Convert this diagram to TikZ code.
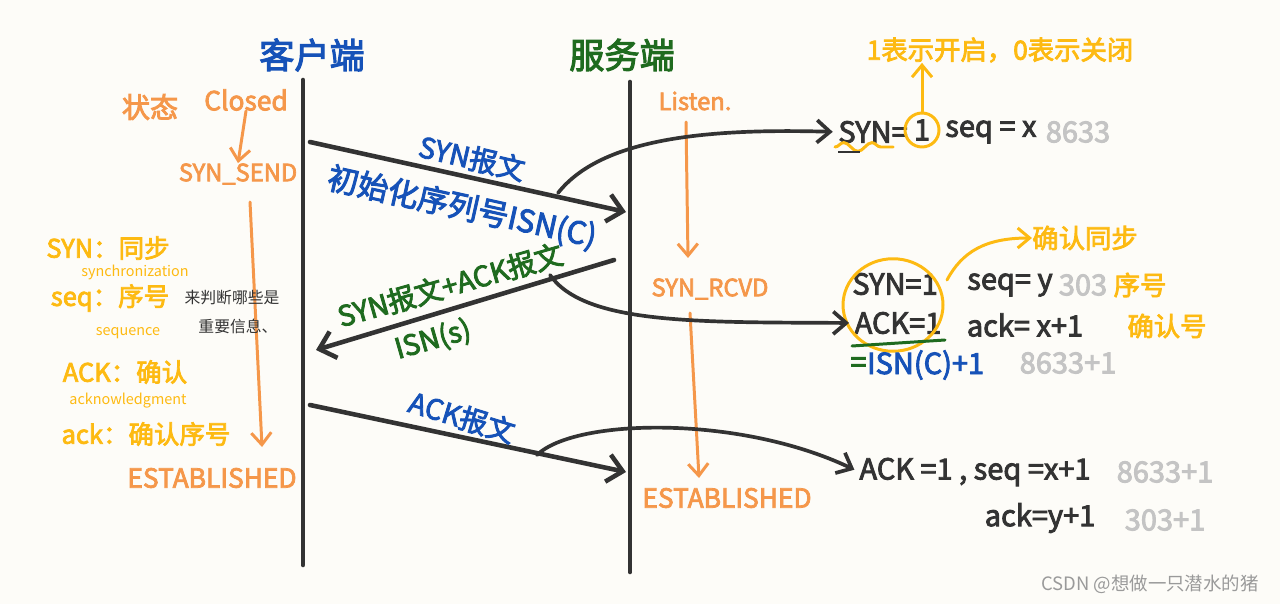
\documentclass[tikz,border=0pt]{standalone}
\usepackage{fontspec}
\setmainfont{Noto Sans CJK SC}
\newfontfamily\hand{Noto Sans CJK SC}[FakeBold=3]
\usepackage{xcolor}
\usetikzlibrary{arrows.meta,decorations.pathmorphing,shapes.geometric}
\definecolor{paper}{HTML}{FDFCF8}
\definecolor{ink}{HTML}{333333}
\definecolor{blu}{HTML}{1652B8}
\definecolor{grn}{HTML}{1F6B1F}
\definecolor{org}{HTML}{F5974A}
\definecolor{ylw}{HTML}{FDBA12}
\definecolor{gry}{HTML}{C4C4C4}
\definecolor{wm}{HTML}{9A9A9A}
\tikzset{
  life/.style={draw=ink, line width=2.6pt, line cap=round},
  msg/.style={draw=ink, line width=2.6pt, line cap=round, line join=round,
    -{Straight Barb[length=3mm,width=5.5mm]}},
  bendto/.style={draw=ink, line width=2.1pt, line cap=round, shorten >=3pt,
    -{Straight Barb[length=2.6mm,width=4.5mm]}},
  flow/.style={draw=org, line width=1.7pt, line cap=round,
    -{Straight Barb[length=2.4mm,width=4mm]}},
  hl/.style={draw=ylw, line width=1.7pt, line cap=round},
  hlto/.style={hl, -{Straight Barb[length=2.4mm,width=4mm]}},
  ttl/.style={font=\fontsize{20}{22}\hand, inner sep=0pt},
  state/.style={text=org, font=\fontsize{13.5}{15}\hand, inner sep=0pt},
  stateb/.style={state, font=\fontsize{15}{17}\hand},
  key/.style={text=ylw, font=\fontsize{14.5}{16}\hand, inner sep=0pt},
  keyb/.style={text=ylw, font=\fontsize{15}{17}\hand, inner sep=0pt},
  keysub/.style={text=ylw, font=\fontsize{8.2}{9}\selectfont, inner sep=0pt},
  note/.style={text=ink, font=\fontsize{9}{11}\selectfont, inner sep=0pt},
  lab/.style={font=\fontsize{16}{18}\hand, inner sep=0pt},
  val/.style={text=ink, font=\fontsize{16.5}{18}\hand, inner sep=0pt},
  num/.style={text=gry, font=\fontsize{16.5}{18}\hand, inner sep=0pt},
}

\begin{document}
\begin{tikzpicture}[x=0.02cm,y=-0.02cm]
  \fill[paper] (0,0) rectangle (1280,604);
  \useasboundingbox (0,0) rectangle (1280,604);

  % lifelines
  \coordinate (ctop) at (303,80);
  \coordinate (cbot) at (303,565);
  \coordinate (stop) at (630,82);
  \coordinate (sbot) at (630,572);
  \draw[life] (ctop) -- (cbot);
  \draw[life] (stop) -- (sbot);
  \node[ttl,text=blu] (client) at (312,55) {客户端};
  \node[ttl,text=grn] (server) at (622,55) {服务端};

  % client states
  \node[state,font=\fontsize{16}{18}\hand] (zt) at (150,107) {状态};
  \node[stateb] (closed) at (246,100) {Closed};
  \node[state] (csend) at (238,174) {SYN\_SEND};
  \node[stateb] (cest) at (212,478) {ESTABLISHED};
  \coordinate (f1a) at (250,202);
  \coordinate (f1b) at (262,447);
  \draw[flow] (closed.south) -- (csend.north);
  \draw[flow] (f1a) -- (f1b);

  % legend
  \node[key] (ksyn) at (108,248) {SYN：同步};
  \node[keysub] (ksyn2) at (135,272) {synchronization};
  \node[key] (kseq) at (110,298) {seq：序号};
  \node[keysub] (kseq2) at (128,333) {sequence};
  \node[key] (kack) at (125,372) {ACK：确认};
  \node[keysub] (kack2) at (128,401) {acknowledgment};
  \node[key] (kack3) at (146,434) {ack：确认序号};
  \node[note] (n1) at (232,298) {来判断哪些是};
  \node[note] (n2) at (238,326) {重要信息、};

  % server states
  \node[state] (listen) at (695,101) {Listen.};
  \node[state] (srcvd) at (710,289) {SYN\_RCVD};
  \node[stateb] (sest) at (727,498) {ESTABLISHED};
  \coordinate (f2a) at (686,122);
  \coordinate (f2b) at (688,258);
  \coordinate (f3a) at (690,313);
  \coordinate (f3b) at (699,478);
  \draw[flow] (f2a) -- (f2b);
  \draw[flow] (f3a) -- (f3b);

  % messages
  \coordinate (m1a) at (310,142);
  \coordinate (m1b) at (626,212);
  \coordinate (m2a) at (614,260);
  \coordinate (m2b) at (316,350);
  \coordinate (m3a) at (310,405);
  \coordinate (m3b) at (626,472);
  \draw[msg] (m1a) -- (m1b);
  \draw[msg] (m2a) -- (m2b);
  \draw[msg] (m3a) -- (m3b);
  \node[lab,text=blu,rotate=-13] (l1) at (472,158) {SYN报文};
  \node[lab,text=blu,rotate=-12.5,font=\fontsize{17.5}{19}\hand] (l1b) at (462,208) {初始化序列号ISN(C)};
  \node[lab,text=grn,rotate=16] (l2) at (450,285) {SYN报文+ACK报文};
  \node[lab,text=grn,rotate=16] (l2b) at (433,340) {ISN(s)};
  \node[lab,text=blu,rotate=-17] (l3) at (462,417) {ACK报文};

  % first segment
  \node[val] (syn1) at (873,132) {SYN=};
  \node[val,circle,draw=ylw,line width=1.7pt,minimum size=0.68cm] (one) at (922,130) {1};
  \node[val,anchor=west] (seqx) at (945,132) {seq = x};
  \node[num] (g1) at (1078,132) {8633};
  \node[keyb] (onezero) at (1000,50) {1表示开启，0表示关闭};
  \draw[hlto] (one.north) -- (onezero.south -| one.north);
  \coordinate (w1) at (835,147);
  \coordinate (w2) at (893,147);
  \draw[hl,decorate,decoration={snake,amplitude=2.5,segment length=16}] (w1) -- (w2);
  \coordinate (u1) at (838,152);
  \coordinate (u2) at (860,152);
  \draw[draw=ink,line width=1.4pt] (u1) -- (u2);
  \coordinate (c1) at (558,193);
  \draw[bendto] (c1) .. controls (600,140) and (700,128) .. (syn1.west);

  % second segment
  \node[val] (syn2) at (895,284) {SYN=1};
  \node[val] (ack2) at (898,323) {ACK=1};
  \node[draw=ylw,line width=1.7pt,ellipse,minimum width=2.0cm,minimum height=1.85cm] (ring) at (893,305) {};
  \coordinate (g2a) at (852,346);
  \coordinate (g2b) at (945,340);
  \draw[draw=grn,line width=1.7pt,line cap=round] (g2a) -- (g2b);
  \node[val,text=grn,anchor=west] (eq) at (850,365) {=};
  \node[val,text=blu,anchor=west] (isnc) at (eq.east) {ISN(C)+1};
  \node[num] (g2c) at (1068,363) {8633+1};
  \node[val] (seqy) at (1010,285) {seq= y};
  \node[num] (g2) at (1083,285) {303};
  \node[keyb] (xh) at (1140,285) {序号};
  \node[val] (ackx) at (1025,325) {ack= x+1};
  \node[keyb] (qrh) at (1167,326) {确认号};
  \node[keyb] (qrtb) at (1085,238) {确认同步};
  \coordinate (r1) at (947,280);
  \draw[hlto] (r1) .. controls (962,252) and (985,238) .. (qrtb.west);
  \coordinate (c2) at (550,275);
  \draw[bendto] (c2) .. controls (585,325) and (700,322) .. (ack2.west);

  % third segment
  \node[val] (ack3) at (975,472) {ACK =1 , seq =x+1};
  \node[num] (g3) at (1165,472) {8633+1};
  \node[val] (acky) at (1040,518) {ack=y+1};
  \node[num] (g3b) at (1165,520) {303+1};
  \coordinate (c3) at (537,455);
  \draw[bendto] (c3) .. controls (575,418) and (740,415) .. (ack3.west);

  \node[text=wm,font=\fontsize{10.5}{12}\selectfont,inner sep=0pt] (mark) at (1150,584) {CSDN @想做一只潜水的猪};
\end{tikzpicture}
\end{document}
